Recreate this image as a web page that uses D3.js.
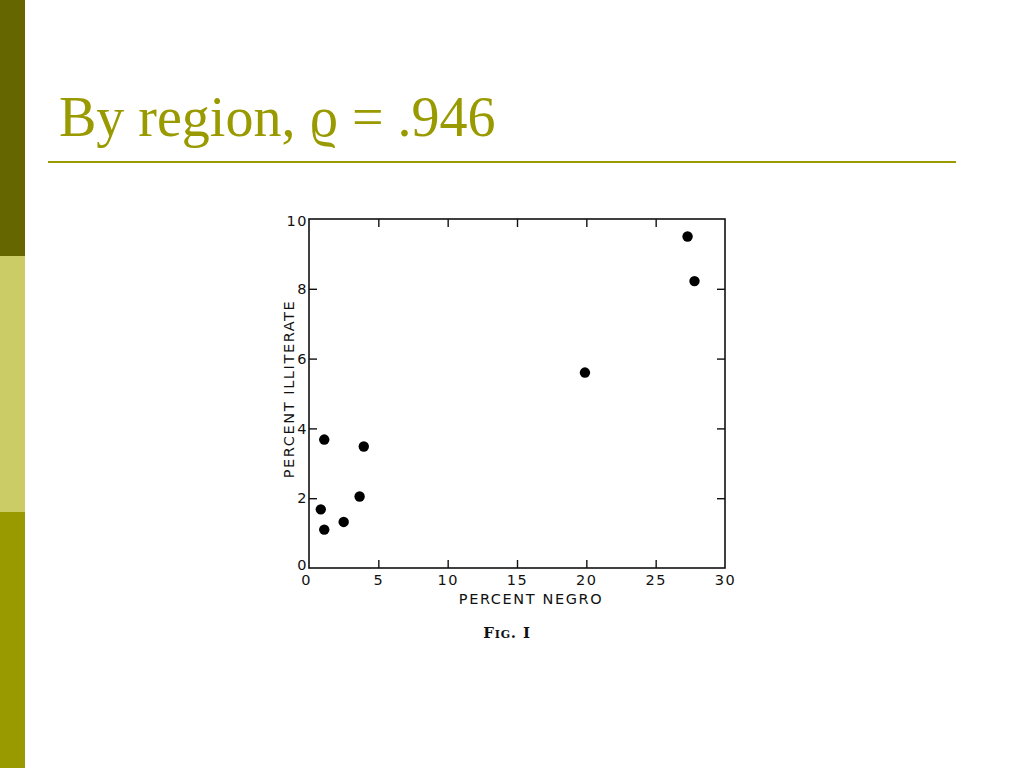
<!DOCTYPE html>
<html><head><meta charset="utf-8">
<script src="https://cdn.jsdelivr.net/npm/d3@7"></script>
<style>html,body{margin:0;padding:0;background:#fff;}svg{display:block;}</style>
</head><body>
<svg id="c" width="1024" height="768"></svg>
<script>
const titleText = "By region, \u03F1 = .946";
const percentNegro = [27.3, 27.8, 19.9, 1.1, 3.95, 3.65, 0.85, 1.1, 2.5];
const percentIlliterate = [9.5, 8.22, 5.6, 3.68, 3.48, 2.05, 1.68, 1.1, 1.32];
const xTicks = [0, 5, 10, 15, 20, 25, 30];
const yTicks = [0, 2, 4, 6, 8, 10];
const xLabel = "PERCENT NEGRO";
const yLabel = "PERCENT ILLITERATE";
const figLabel = "Fig. I";

const svg = d3.select("#c");
const bands = [["#666600", 0, 256], ["#CCCC66", 256, 512], ["#999900", 512, 768]];
svg.selectAll("rect.band").data(bands).enter().append("rect")
  .attr("x", 0).attr("width", 25).attr("y", d => d[1]).attr("height", d => d[2] - d[1]).attr("fill", d => d[0]);

svg.append("text").attr("x", 59).attr("y", 136)
  .attr("font-family", "'Liberation Serif', 'DejaVu Serif', serif").attr("font-size", 56)
  .attr("fill", "#999900").text(titleText);
svg.append("line").attr("x1", 48).attr("x2", 956).attr("y1", 162).attr("y2", 162)
  .attr("stroke", "#999900").attr("stroke-width", 2);

const x = d3.scaleLinear().domain([0, 30]).range([309, 725]);
const y = d3.scaleLinear().domain([0, 10]).range([568, 219]);
const g = svg.append("g").attr("font-family", "'DejaVu Sans', sans-serif");

g.append("rect").attr("x", x(0)).attr("y", y(10)).attr("width", x(30) - x(0)).attr("height", y(0) - y(10))
  .attr("fill", "none").attr("stroke", "#111").attr("stroke-width", 1.6);

function styleAxis(sel) {
  sel.select(".domain").remove();
  sel.selectAll(".tick line").attr("stroke", "#111").attr("stroke-width", 1.4);
  sel.selectAll(".tick text").attr("fill", "#111").attr("font-size", 14.5)
    .attr("letter-spacing", 1.5).attr("font-family", "'DejaVu Sans', sans-serif");
}
const inner = xTicks.slice(1, -1);
const innerY = yTicks.slice(1, -1);
g.append("g").attr("transform", `translate(0,${y(0)})`)
  .call(d3.axisBottom(x).tickValues(inner).tickSize(-8).tickFormat(""))
  .call(styleAxis);
g.append("g").attr("transform", `translate(0,${y(0)})`)
  .call(d3.axisBottom(x).tickValues(xTicks).tickSize(0).tickPadding(7).tickFormat(d3.format("d")))
  .call(styleAxis)
  .call(s => s.selectAll(".tick").filter(d => d === 0).select("text").attr("dx", -3));
g.append("g").attr("transform", `translate(0,${y(10)})`)
  .call(d3.axisTop(x).tickValues(inner).tickSize(-8).tickFormat(""))
  .call(styleAxis);
g.append("g").attr("transform", `translate(${x(30)},0)`)
  .call(d3.axisRight(y).tickValues(innerY).tickSize(-8).tickFormat(""))
  .call(styleAxis);
g.append("g").attr("transform", `translate(${x(0)},0)`)
  .call(d3.axisRight(y).tickValues(innerY).tickSize(8).tickFormat(""))
  .call(styleAxis);
g.append("g").attr("transform", `translate(${x(0)},0)`)
  .call(d3.axisLeft(y).tickValues(yTicks).tickSize(0).tickPadding(1).tickFormat(d3.format("d")))
  .call(styleAxis)
  .call(s => s.selectAll(".tick").filter(d => d === 0).select("text").attr("dy", "0.1em"))
  .call(s => s.selectAll(".tick").filter(d => d === 10).select("text").attr("dy", "0.45em"));

g.selectAll("circle.pt").data(percentNegro.map((v, i) => [v, percentIlliterate[i]])).enter()
  .append("circle").attr("class", "pt")
  .attr("cx", d => x(d[0])).attr("cy", d => y(d[1])).attr("r", 5.2).attr("fill", "#000");

g.append("text").attr("x", 531).attr("y", 604).attr("text-anchor", "middle")
  .attr("font-size", 14.5).attr("letter-spacing", 1.6).attr("fill", "#111").text(xLabel);
g.append("text").attr("transform", `translate(294,389) rotate(-90)`).attr("text-anchor", "middle")
  .attr("font-size", 14.5).attr("letter-spacing", 1.6).attr("fill", "#111").text(yLabel);
g.append("text").attr("x", 507).attr("y", 638).attr("text-anchor", "middle")
  .attr("font-family", "'DejaVu Serif', serif").attr("font-weight", "bold").attr("font-size", 15)
  .attr("letter-spacing", 0.8).attr("font-variant", "small-caps").attr("fill", "#111").text(figLabel);
</script>
</body></html>
